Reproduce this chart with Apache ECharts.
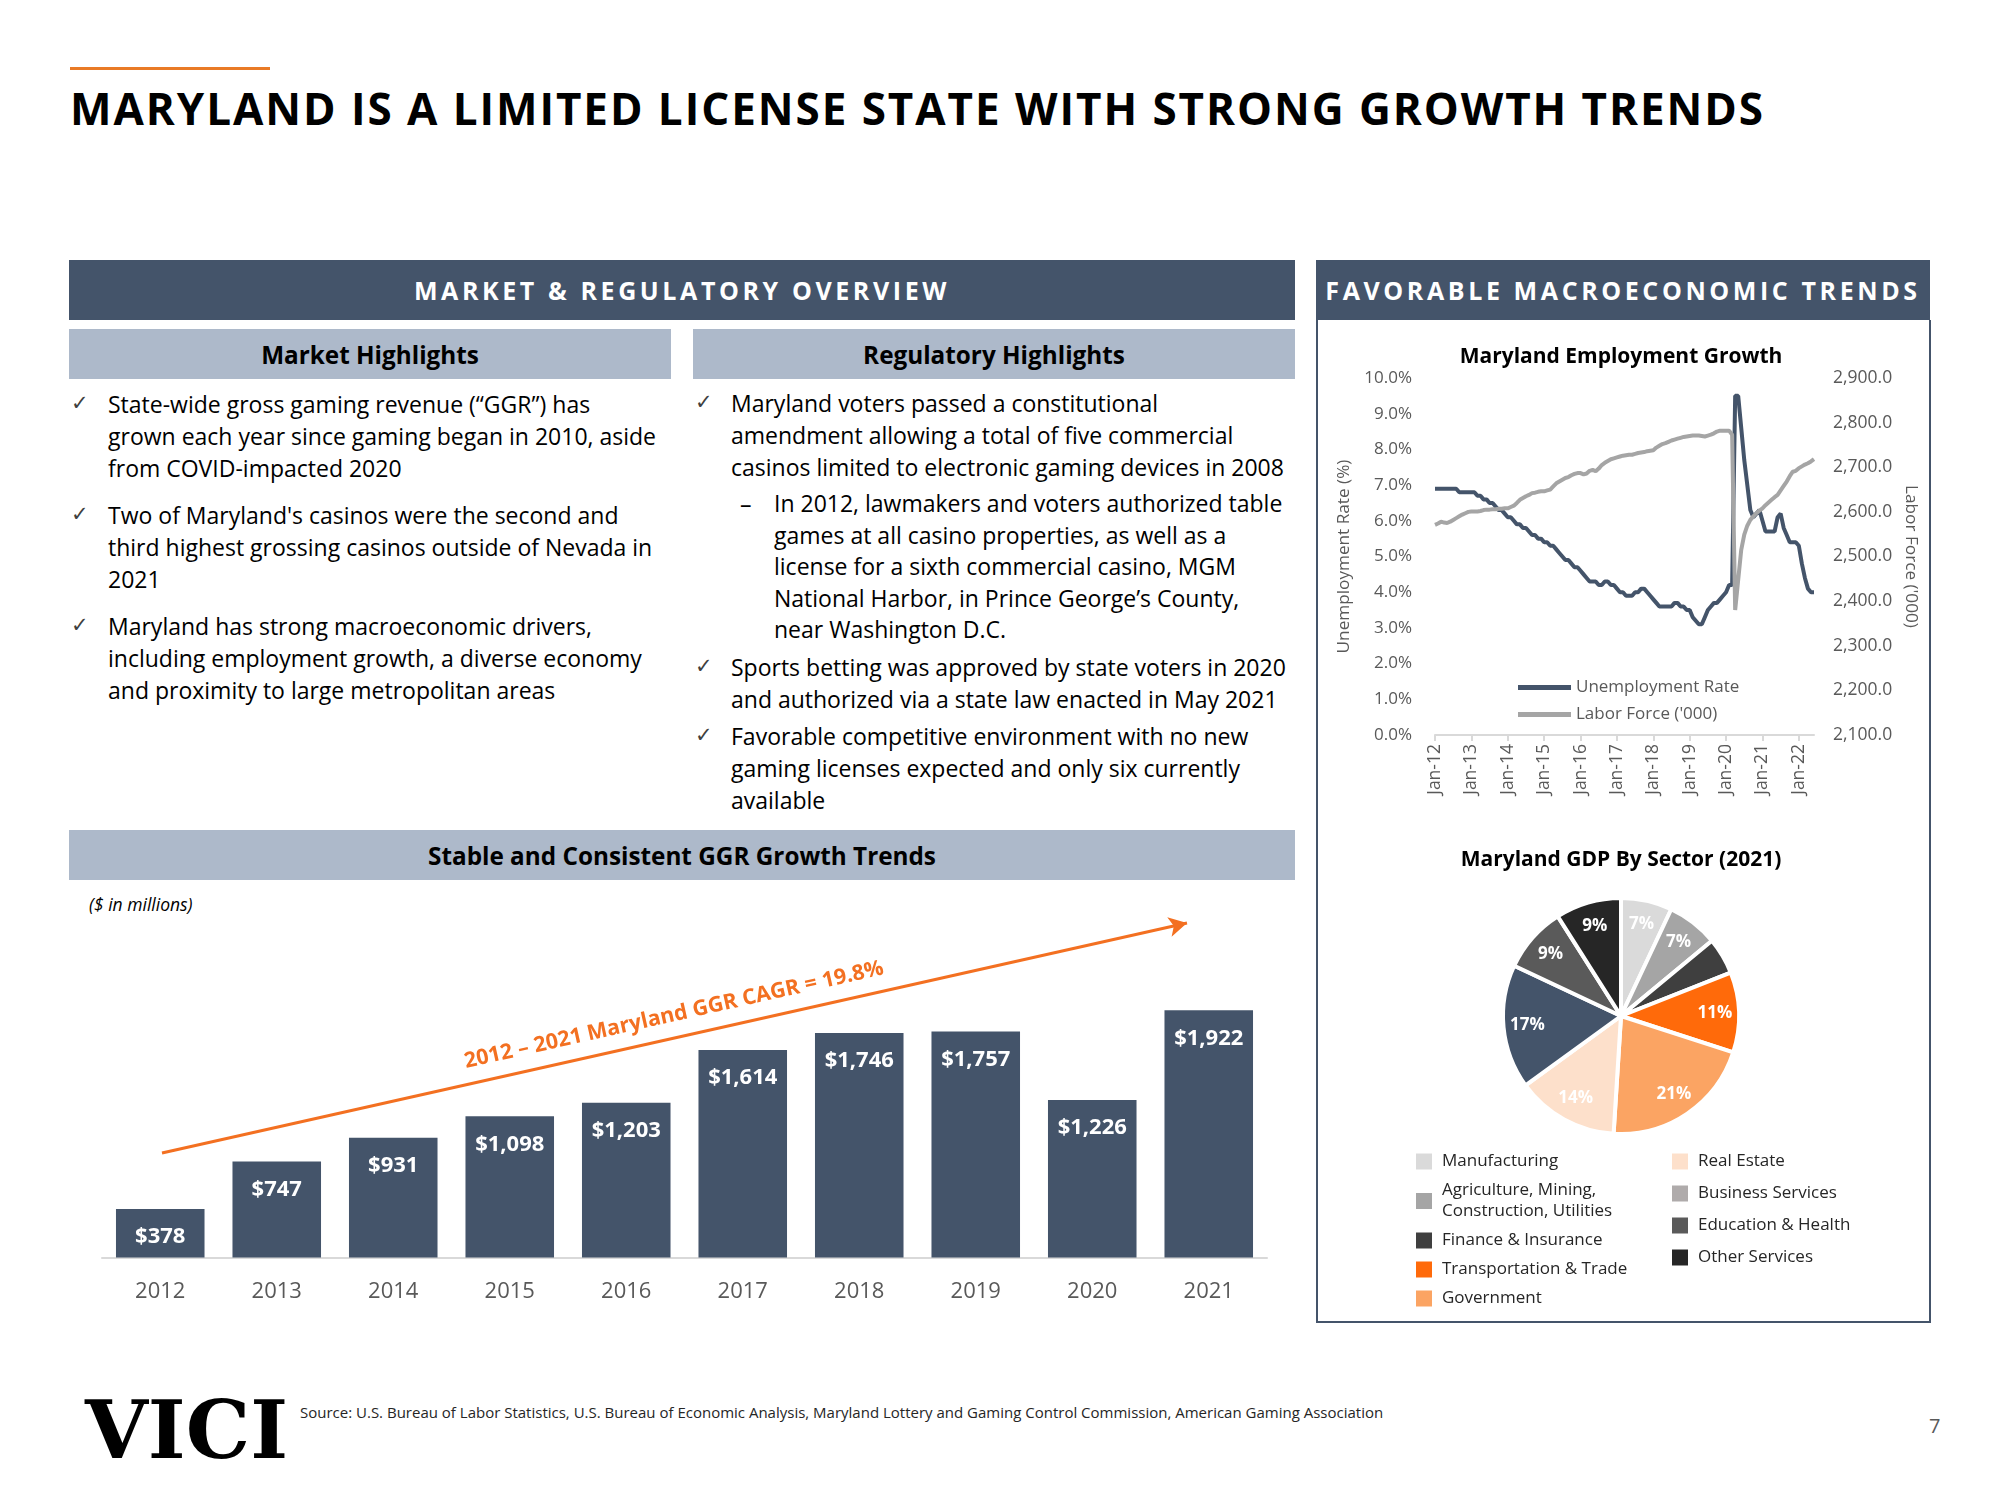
<!DOCTYPE html>
<html><head><meta charset="utf-8">
<script src="https://cdn.jsdelivr.net/npm/echarts@6/dist/echarts.min.js"></script>
<style>
html,body{margin:0;padding:0;background:#fff;}
#slide{position:relative;width:2000px;height:1500px;overflow:hidden;font-family:'Open Sans',sans-serif;color:#000;}
.abs{position:absolute;}
#chart{position:absolute;left:0;top:0;width:2000px;height:1500px;z-index:2;}
.hdr{position:absolute;background:#44546A;color:#fff;font-weight:700;display:flex;align-items:center;justify-content:center;font-size:25px;letter-spacing:3.6px;}
.sub{position:absolute;background:#ADB9CA;color:#000;font-weight:700;display:flex;align-items:center;justify-content:center;font-size:24.3px;}
.bl{position:absolute;font-size:23px;line-height:32px;white-space:nowrap;color:#000;}
.ck{position:absolute;font-family:'DejaVu Sans';font-size:21px;line-height:32px;color:#404040;}
</style></head>
<body><div id="slide">
<div class="abs" style="left:70px;top:67px;width:200px;height:3px;background:#E97A26"></div>
<div class="abs" style="left:70px;top:80px;font-size:44px;font-weight:700;letter-spacing:1.95px;line-height:56px;white-space:nowrap">MARYLAND IS A LIMITED LICENSE STATE WITH STRONG GROWTH TRENDS</div>

<div class="hdr" style="left:69px;top:260px;width:1226px;height:60px;">MARKET &amp; REGULATORY OVERVIEW</div>
<div class="hdr" style="left:1316px;top:260px;width:614px;height:60px;">FAVORABLE MACROECONOMIC TRENDS</div>
<div class="abs" style="left:1316px;top:320px;width:611px;height:1001px;border:2px solid #44546A;border-top:none"></div>

<div class="sub" style="left:69px;top:329px;width:602px;height:50px;">Market Highlights</div>
<div class="sub" style="left:693px;top:329px;width:602px;height:50px;">Regulatory Highlights</div>

<div class="ck" style="left:71px;top:387px">✓</div>
<div class="bl" style="left:108px;top:388px">State-wide gross gaming revenue (“GGR”) has<br>grown each year since gaming began in 2010, aside<br>from COVID-impacted 2020</div>
<div class="ck" style="left:71px;top:498px">✓</div>
<div class="bl" style="left:108px;top:499px">Two of Maryland's casinos were the second and<br>third highest grossing casinos outside of Nevada in<br>2021</div>
<div class="ck" style="left:71px;top:609px">✓</div>
<div class="bl" style="left:108px;top:610px">Maryland has strong macroeconomic drivers,<br>including employment growth, a diverse economy<br>and proximity to large metropolitan areas</div>

<div class="ck" style="left:695px;top:386px">✓</div>
<div class="bl" style="left:731px;top:387px">Maryland voters passed a constitutional<br>amendment allowing a total of five commercial<br>casinos limited to electronic gaming devices in 2008</div>
<div class="bl" style="left:740px;top:488px">–</div>
<div class="bl" style="left:774px;top:488px;line-height:31.5px">In 2012, lawmakers and voters authorized table<br>games at all casino properties, as well as a<br>license for a sixth commercial casino, MGM<br>National Harbor, in Prince George’s County,<br>near Washington D.C.</div>
<div class="ck" style="left:695px;top:650px">✓</div>
<div class="bl" style="left:731px;top:651px">Sports betting was approved by state voters in 2020<br>and authorized via a state law enacted in May 2021</div>
<div class="ck" style="left:695px;top:719px">✓</div>
<div class="bl" style="left:731px;top:720px">Favorable competitive environment with no new<br>gaming licenses expected and only six currently<br>available</div>

<div class="sub" style="left:69px;top:830px;width:1226px;height:50px;">Stable and Consistent GGR Growth Trends</div>
<div class="abs" style="left:89px;top:892px;font-size:17.5px;font-style:italic;line-height:24px">($ in millions)</div>

<div class="abs" style="left:85px;top:1380px;font-family:'DejaVu Serif';font-weight:700;font-size:81px;line-height:100px;letter-spacing:0px">VICI</div>
<div class="abs" style="left:300px;top:1402px;font-size:15px;line-height:20px;color:#262626;white-space:nowrap">Source: U.S. Bureau of Labor Statistics, U.S. Bureau of Economic Analysis, Maryland Lottery and Gaming Control Commission, American Gaming Association</div>
<div class="abs" style="left:1929px;top:1412px;font-size:20px;line-height:28px;color:#595959">7</div>

<div id="chart"></div>
</div>
<script>
// ---- GGR bar chart data ----
const barYears = ['2012','2013','2014','2015','2016','2017','2018','2019','2020','2021'];
const ggrValues = [378, 747, 931, 1098, 1203, 1614, 1746, 1757, 1226, 1922];
const cagrText = '2012 – 2021 Maryland GGR CAGR = 19.8%';

// ---- Employment data (monthly, Jan-12 .. Jun-22) ----
const unemploymentRate = [
  6.9,6.9,6.9,6.9,6.9,6.9,6.9,6.9,6.8,6.8,6.8,6.8,
  6.8,6.8,6.7,6.7,6.6,6.6,6.5,6.5,6.4,6.3,6.3,6.2,
  6.1,6.1,6.0,5.9,5.9,5.8,5.8,5.7,5.6,5.6,5.5,5.5,
  5.4,5.4,5.3,5.3,5.2,5.1,5.0,4.9,4.9,4.8,4.7,4.7,
  4.6,4.5,4.4,4.3,4.3,4.3,4.2,4.2,4.3,4.3,4.2,4.2,
  4.1,4.0,4.0,3.9,3.9,3.9,4.0,4.0,4.1,4.1,4.0,3.9,
  3.8,3.7,3.6,3.6,3.6,3.6,3.6,3.7,3.7,3.6,3.6,3.5,
  3.5,3.3,3.2,3.1,3.1,3.3,3.5,3.6,3.7,3.7,3.8,3.9,
  4.0,4.2,4.2,9.5,9.5,8.6,7.7,7.0,6.3,6.1,6.2,6.3,
  6.0,5.7,5.7,5.7,5.7,6.1,6.2,5.8,5.6,5.4,5.4,5.4,
  5.3,4.8,4.4,4.1,4.0,4.0
];
const laborForce = [
  2571,2574,2578,2576,2575,2578,2582,2586,2590,2594,2597,2600,
  2601,2601,2601,2602,2604,2605,2605,2606,2606,2607,2607,2608,
  2608,2611,2614,2620,2627,2631,2635,2638,2642,2643,2645,2646,
  2646,2648,2650,2657,2664,2668,2672,2676,2678,2682,2685,2687,
  2687,2684,2686,2692,2694,2691,2697,2705,2710,2714,2718,2720,
  2722,2724,2726,2727,2728,2728,2730,2732,2733,2734,2736,2737,
  2738,2744,2748,2752,2754,2757,2760,2762,2764,2766,2768,2769,
  2770,2771,2771,2771,2770,2769,2771,2773,2776,2780,2782,2782,
  2782,2782,2773,2380,2448,2515,2549,2569,2582,2590,2597,2603,
  2608,2615,2621,2627,2633,2638,2648,2658,2668,2680,2690,2692,
  2698,2702,2706,2709,2713,2718
];
const monthNames = ['Jan','Feb','Mar','Apr','May','Jun','Jul','Aug','Sep','Oct','Nov','Dec'];
const firstYear2d = 12;

// ---- GDP by sector (2021, %) ----
const sectorNames = ['Manufacturing','Agriculture, Mining, Construction, Utilities','Finance & Insurance','Transportation & Trade','Government','Real Estate','Business Services','Education & Health','Other Services'];
const sectorShares = [7, 7, 5, 11, 21, 14, 17, 9, 9];

// build month category labels
const monthLabels = [];
for (let y = firstYear2d; monthLabels.length < unemploymentRate.length; y++) {
  for (let m = 0; m < 12 && monthLabels.length < unemploymentRate.length; m++) monthLabels.push(monthNames[m] + '-' + y);
}

const sliceColors = ['#DADADA','#A5A5A5','#3F3F3F','#FF6A0A','#FBA463','#FDE0CB','#44546A','#5A5A5A','#262626'];
const FONT = 'Open Sans';
const yearTick = (i) => i % 12 === 0;

const chart = echarts.init(document.getElementById('chart'), null, {renderer: 'canvas'});
const option = {
  animation: false,
  backgroundColor: 'transparent',
  textStyle: {fontFamily: FONT},
  title: [
    {text: 'Maryland Employment Growth', left: 1621, top: 347, padding: 0, textAlign: 'center',
     textStyle: {fontSize: 21, fontWeight: 'bold', color: '#000', fontFamily: FONT}},
    {text: 'Maryland GDP By Sector (2021)', left: 1621, top: 850, padding: 0, textAlign: 'center',
     textStyle: {fontSize: 21, fontWeight: 'bold', color: '#000', fontFamily: FONT}}
  ],
  grid: [
    {left: 1435, top: 378, width: 379, height: 357, containLabel: false, outerBoundsMode: 'none'},
    {left: 102, top: 936, width: 1165, height: 321.6, containLabel: false, outerBoundsMode: 'none'}
  ],
  xAxis: [
    {type: 'category', gridIndex: 0, data: monthLabels, boundaryGap: false,
     axisLine: {lineStyle: {color: '#D9D9D9', width: 2}},
     axisTick: {show: true, interval: yearTick, length: 6, lineStyle: {color: '#D9D9D9', width: 2}},
     axisLabel: {interval: yearTick, rotate: 90, color: '#595959', fontSize: 17.5, margin: 9, fontFamily: FONT},
     splitLine: {show: false}},
    {type: 'category', gridIndex: 1, data: barYears,
     axisLine: {lineStyle: {color: '#D9D9D9', width: 2}},
     axisTick: {show: false},
     axisLabel: {color: '#595959', fontSize: 22, margin: 23, fontFamily: FONT}}
  ],
  yAxis: [
    {type: 'value', gridIndex: 0, min: 0, max: 10, interval: 1,
     axisLabel: {formatter: v => v.toFixed(1) + '%', color: '#595959', fontSize: 17, margin: 23, fontFamily: FONT},
     axisLine: {show: false}, axisTick: {show: false}, splitLine: {show: false},
     name: 'Unemployment Rate (%)', nameLocation: 'middle', nameRotate: 90, nameGap: 82,
     nameTextStyle: {color: '#595959', fontSize: 17.2, fontFamily: FONT}},
    {type: 'value', gridIndex: 0, position: 'right', min: 2100, max: 2900, interval: 100,
     axisLabel: {formatter: v => v.toLocaleString('en-US', {minimumFractionDigits: 1, maximumFractionDigits: 1}),
                 color: '#595959', fontSize: 17.5, margin: 19, fontFamily: FONT},
     axisLine: {show: false}, axisTick: {show: false}, splitLine: {show: false},
     name: "Labor Force ('000)", nameLocation: 'middle', nameRotate: -90, nameGap: 88,
     nameTextStyle: {color: '#595959', fontSize: 17.2, fontFamily: FONT}},
    {type: 'value', gridIndex: 1, min: 0, max: 2500, show: false, splitLine: {show: false}}
  ],
  legend: [
    {data: ['Unemployment Rate', "Labor Force ('000)"], left: 1518, top: 679, orient: 'vertical',
     icon: 'rect', itemWidth: 53, itemHeight: 5, itemGap: 10, selectedMode: false, padding: 0,
     textStyle: {fontSize: 17, color: '#595959', fontFamily: FONT}},
    {data: sectorNames.slice(0, 5), left: 1414, top: 1151, orient: 'vertical', icon: 'rect',
     itemWidth: 18, itemHeight: 18, itemGap: 8, selectedMode: false, padding: 0,
     formatter: n => n === sectorNames[1] ? 'Agriculture, Mining,\nConstruction, Utilities' : n,
     textStyle: {fontSize: 17, color: '#262626', lineHeight: 21, fontFamily: FONT, padding: [0, 0, 0, 4]}},
    {data: [sectorNames[5], {name: sectorNames[6], itemStyle: {color: '#AFABAB'}}, sectorNames[7], sectorNames[8]],
     left: 1670, top: 1151, orient: 'vertical', icon: 'rect',
     itemWidth: 18, itemHeight: 18, itemGap: 11, selectedMode: false, padding: 0,
     textStyle: {fontSize: 17, color: '#262626', lineHeight: 21, fontFamily: FONT, padding: [0, 0, 0, 4]}}
  ],
  series: [
    {name: 'Unemployment Rate', type: 'line', xAxisIndex: 0, yAxisIndex: 0, data: unemploymentRate,
     symbol: 'none', showSymbol: false, lineStyle: {color: '#44546A', width: 4}, itemStyle: {color: '#44546A'}},
    {name: "Labor Force ('000)", type: 'line', xAxisIndex: 0, yAxisIndex: 1, data: laborForce,
     symbol: 'none', showSymbol: false, lineStyle: {color: '#A5A5A5', width: 4}, itemStyle: {color: '#A5A5A5'}},
    {name: 'GGR', type: 'bar', xAxisIndex: 1, yAxisIndex: 2, data: ggrValues, barCategoryGap: '24%',
     itemStyle: {color: '#44546A'},
     label: {show: true, position: 'insideTop', distance: 17, color: '#fff', fontWeight: 'bold', fontSize: 22,
             fontFamily: FONT, formatter: p => '$' + p.value.toLocaleString('en-US')},
     markLine: {silent: true, symbol: ['none', 'arrow'], symbolSize: [15, 18],
       lineStyle: {color: '#F37021', width: 3, type: 'solid'}, label: {show: false},
       data: [[{x: 162, y: 1153}, {x: 1187, y: 923}]]}},
    {name: 'GDP', type: 'pie', center: [1621, 1016], radius: [0, 118], startAngle: 90, clockwise: true,
     data: sectorNames.map((n, i) => ({name: n, value: sectorShares[i], itemStyle: {color: sliceColors[i]}})),
     itemStyle: {borderColor: '#fff', borderWidth: 4}, label: {show: false}, labelLine: {show: false}, silent: true},
    {name: 'GDP labels', type: 'pie', center: [1621, 1016], radius: [64, 118], startAngle: 90, clockwise: true,
     data: sectorNames.map((n, i) => ({name: n, value: sectorShares[i],
        label: {show: i !== 2}})),
     itemStyle: {color: 'rgba(0,0,0,0)', borderWidth: 0}, silent: true, labelLine: {show: false},
     label: {show: true, position: 'inside', formatter: p => p.value + '%', color: '#fff', fontWeight: 'bold',
             fontSize: 17, fontFamily: FONT}}
  ],
  graphic: [
    {type: 'text', x: 674, y: 1015, rotation: 12.65 * Math.PI / 180, z: 10,
     style: {text: cagrText, fill: '#F37021', fontSize: 21.5, fontWeight: 'bold', fontFamily: FONT,
             align: 'center', verticalAlign: 'middle'}}
  ]
};
chart.setOption(option);
</script>
</body></html>
